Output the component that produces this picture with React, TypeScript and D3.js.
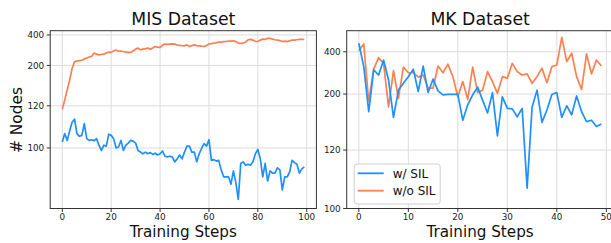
import React from "react";
import * as d3 from "d3";

// values (number of nodes per training step)
const misWithSil = [
  101.4, 103.9, 101.8, 104.8, 108.7, 110.3, 103.9, 103, 103.3, 108,
  102.3, 101.8, 102, 101.7, 102.3, 100.6, 99.5, 100.6, 100.4, 103.7,
  103.3, 102.3, 100, 100.2, 101.8, 99.5, 100.6, 101.1, 101.8, 101.6,
  101.1, 99.5, 99.2, 98.9, 99.2, 98.9, 99.1, 98.8, 99, 98.7,
  98.9, 99.4, 98.5, 98.4, 98.5, 98.4, 97.7, 98.1, 98.7, 98.1,
  99.2, 100.4, 100.4, 99.2, 99.2, 97.7, 98.9, 99.9, 101, 100.4,
  102, 97.9, 98, 97.8, 97.9, 96.8, 96.2, 96.2, 96.2, 95.7,
  96.7, 95.8, 95, 97.5, 97.7, 97.3, 97.4, 97.3, 97.7, 98.9,
  99.7, 98.1, 96.2, 97.5, 95.9, 96.7, 96.5, 96.5, 97, 96.8,
  95.4, 96.2, 96.2, 96.6, 97.9, 97.6, 97.4, 96.5, 96.9, 97.1,
];

const misWithoutSil = [
  117, 126, 139, 157, 189, 214, 217, 219, 221, 226,
  231, 236, 239, 257, 251, 247, 249, 251, 257, 262,
  261, 269, 276, 267, 269, 266, 262, 261, 261, 269,
  281, 288, 276, 281, 284, 288, 281, 288, 299, 295,
  292, 309, 317, 315, 317, 319, 317, 309, 307, 305,
  304, 311, 299, 305, 311, 305, 304, 301, 299, 305,
  319, 321, 325, 327, 333, 333, 336, 338, 341, 341,
  344, 337, 325, 323, 325, 333, 353, 356, 350, 338,
  338, 350, 359, 356, 368, 365, 359, 353, 350, 346,
  338, 341, 337, 344, 350, 350, 353, 356, 356, 356,
];

const mkWithSil = [
  473, 305, 162, 288, 265, 343, 245, 153, 211, 233,
  258, 292, 207, 308, 204, 248, 209, 198, 199, 199,
  199, 149, 175, 198, 220, 185, 160, 204, 131, 193,
  168, 167, 154, 168, 104, 170, 211, 146, 165, 199,
  204, 153, 173, 157, 195, 162, 147, 149, 141, 144,
];

const mkWithoutSil = [
  409, 466, 182, 292, 358, 323, 171, 285, 189, 302,
  275, 275, 256, 265, 217, 217, 308, 275, 318, 258,
  193, 239, 187, 302, 204, 211, 280, 239, 202, 258,
  252, 323, 280, 265, 270, 233, 258, 297, 235, 305,
  314, 534, 333, 389, 258, 213, 384, 270, 343, 308,
];

const yTicks = [100, 120, 200, 400];
const misXTicks = [0, 20, 40, 60, 80, 100];
const mkXTicks = [0, 10, 20, 30, 40, 50];
const seriesNames = ["w/ SIL", "w/o SIL"];

const BLUE = "#1E90FF";
const ORANGE = "#FF7F50";
const FONT = "DejaVu Sans, sans-serif";
// the y axis is logarithmic in (value - OFFSET)
const OFFSET = 94;

type PanelProps = {
  title: string;
  blue: number[];
  orange: number[];
  xTicks: number[];
  yDomain: [number, number];
  left: number;
  right: number;
  showYLabel?: boolean;
  showLegend?: boolean;
};

const top = 30.7;
const bottom = 208.5;

const Panel = ({ title, blue, orange, xTicks, yDomain, left, right, showYLabel, showLegend }: PanelProps) => {
  const n = blue.length;
  const pad = (n - 1) * 0.05;
  const x = d3.scaleLinear().domain([-pad, n - 1 + pad]).range([left, right]);
  const yl = d3
    .scaleLog()
    .domain([yDomain[0] - OFFSET, yDomain[1] - OFFSET])
    .range([bottom, top]);
  const y = (v: number) => yl(v - OFFSET);

  const line = d3
    .line<number>()
    .x((_, i) => x(i))
    .y((d) => y(d));

  const cx = (left + right) / 2;
  const clipId = `clip-${title.replace(/\s/g, "")}`;

  return (
    <g>
      <defs>
        <clipPath id={clipId}>
          <rect x={left} y={top} width={right - left} height={bottom - top} />
        </clipPath>
      </defs>
      {xTicks.map((t) => (
        <line key={"gx" + t} x1={x(t)} x2={x(t)} y1={top} y2={bottom} stroke="#dcdcdc" strokeWidth={1} />
      ))}
      {yTicks.map((t) => (
        <line key={"gy" + t} x1={left} x2={right} y1={y(t)} y2={y(t)} stroke="#dcdcdc" strokeWidth={1} />
      ))}
      <g clipPath={`url(#${clipId})`}>
        <path d={line(orange) || ""} fill="none" stroke={ORANGE} strokeWidth={1.7} strokeLinejoin="round" />
        <path d={line(blue) || ""} fill="none" stroke={BLUE} strokeWidth={1.7} strokeLinejoin="round" />
      </g>
      <rect x={left} y={top} width={right - left} height={bottom - top} fill="none" stroke="#333" strokeWidth={1} />
      {xTicks.map((t) => (
        <g key={"tx" + t}>
          <line x1={x(t)} x2={x(t)} y1={bottom} y2={bottom + 3.5} stroke="#333" />
          <text x={x(t)} y={220.3} textAnchor="middle" fontSize={8.8} fill="#222" fontFamily={FONT}>
            {t}
          </text>
        </g>
      ))}
      {yTicks.map((t) => (
        <g key={"ty" + t}>
          <line x1={left - 3.5} x2={left} y1={y(t)} y2={y(t)} stroke="#333" />
          <text x={left - 6} y={y(t)} dy="0.35em" textAnchor="end" fontSize={8.8} fill="#222" fontFamily={FONT}>
            {t}
          </text>
        </g>
      ))}
      <text x={cx} y={25} textAnchor="middle" fontSize={17.3} fill="#111" fontFamily={FONT}>
        {title}
      </text>
      <text x={cx} y={237} textAnchor="middle" fontSize={15.2} fill="#111" fontFamily={FONT}>
        Training Steps
      </text>
      {showYLabel && (
        <text
          transform={`translate(21.5, 120) rotate(-90)`}
          textAnchor="middle"
          fontSize={15.4}
          fill="#111"
          fontFamily={FONT}
        >
          # Nodes
        </text>
      )}
      {showLegend && (
        <g>
          <rect x={left + 7.5} y={164} width={86} height={40} rx={3} fill="#fff" fillOpacity={0.85} stroke="#d0d0d0" />
          {seriesNames.map((s, i) => (
            <g key={s} transform={`translate(0, ${173.3 + i * 17.4})`}>
              <line x1={left + 11} x2={left + 37} y1={0} y2={0} stroke={i === 0 ? BLUE : ORANGE} strokeWidth={1.8} />
              <text x={left + 46} y={0} dy="0.36em" fontSize={12} fill="#111" fontFamily={FONT}>
                {s}
              </text>
            </g>
          ))}
        </g>
      )}
    </g>
  );
};

export default function App() {
  return (
    <div style={{ position: "fixed", left: 0, top: 0, background: "#fff" }}>
      <svg width={611} height={243} style={{ display: "block" }}>
        <rect width={611} height={243} fill="#fff" />
        <Panel
          title="MIS Dataset"
          blue={misWithSil}
          orange={misWithoutSil}
          xTicks={misXTicks}
          yDomain={[94.73, 449]}
          left={50.2}
          right={316.4}
          showYLabel
        />
        <Panel
          title="MK Dataset"
          blue={mkWithSil}
          orange={mkWithoutSil}
          xTicks={mkXTicks}
          yDomain={[100, 613.6]}
          left={346.7}
          right={613.5}
          showLegend
        />
      </svg>
    </div>
  );
}
